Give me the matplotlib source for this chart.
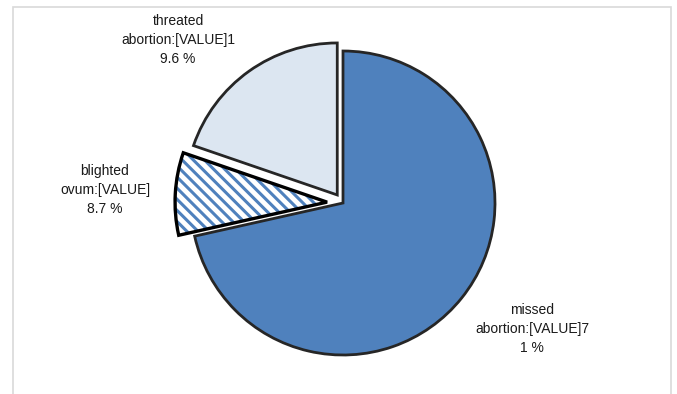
import matplotlib.pyplot as plt
from matplotlib.patches import Rectangle, Wedge

# slice data (clockwise from 12 o'clock)
names = ["missed abortion", "blighted ovum", "threated abortion"]
shares = [71.0, 8.7, 19.6]
explode = [0.0, 0.105, 0.065]
colors = ["#4F81BD", "#FFFFFF", "#DCE6F1"]

label_texts = ["missed\nabortion:[VALUE]7\n1 %",
               "blighted\novum:[VALUE]\n8.7 %",
               "threated\nabortion:[VALUE]1\n9.6 %"]
label_px = [(532, 329), (105, 190), (178, 40)]   # label centres in pixels

W, H = 677, 394
cx, cy, R = 343, 203, 152   # pie centre / radius in pixels

plt.rcParams['font.family'] = ['Liberation Sans', 'DejaVu Sans']
plt.rcParams['hatch.linewidth'] = 2.2

fig = plt.figure(figsize=(W / 100, H / 100), dpi=100)
ax = fig.add_axes([0, 0, 1, 1])

wedges, _ = ax.pie(shares, explode=explode, colors=colors, startangle=90,
                   counterclock=False,
                   wedgeprops=dict(edgecolor="#262626", linewidth=2.0))

# hatched blighted-ovum slice: blue stripes under a black outline
bw = wedges[1]
bw.set_edgecolor("#4F81BD")
bw.set_hatch("\\\\\\")
bw.set_linewidth(0)
ax.add_patch(Wedge(bw.center, bw.r, bw.theta1, bw.theta2, facecolor="none",
                   edgecolor="black", linewidth=2.4, zorder=bw.get_zorder() + 1))

ax.set_aspect('auto')
ax.set_xlim(-cx / R, (W - cx) / R)
ax.set_ylim(-(H - cy) / R, cy / R)
ax.axis('off')

for txt, (px, py) in zip(label_texts, label_px):
    ax.text((px - cx) / R, (cy - py) / R, txt, ha='center', va='center',
            fontsize=10, color="#1a1a1a", linespacing=1.45)

# light grey chart frame
fig.add_artist(Rectangle((13 / W, -0.05), (671 - 13) / W, 1.05 - 7 / H,
                         transform=fig.transFigure, fill=False,
                         edgecolor="#D9D9D9", linewidth=1.2))

fig.savefig("out.png", dpi=100)
